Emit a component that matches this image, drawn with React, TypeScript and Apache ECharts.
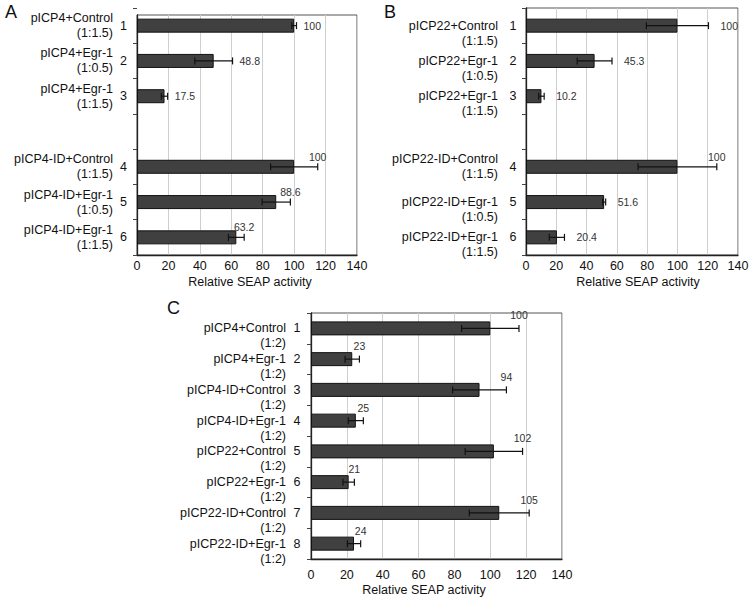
import React, { useEffect, useRef } from "react";
import * as echarts from "echarts";

// Panel A
const namesA = [
  "pICP4+Control\n(1:1.5)",
  "pICP4+Egr-1\n(1:0.5)",
  "pICP4+Egr-1\n(1:1.5)",
  "",
  "pICP4-ID+Control\n(1:1.5)",
  "pICP4-ID+Egr-1\n(1:0.5)",
  "pICP4-ID+Egr-1\n(1:1.5)",
];
const numsA = ["1", "2", "3", "", "4", "5", "6"];
const valsA: (number | null)[] = [100, 48.8, 17.5, null, 100, 88.6, 63.2];
const errA: (number | null)[] = [1.5, 12, 2, null, 15, 9, 5];
const modesA = ["right", "right", "right", "", "top", "top", "top"];

// Panel B
const namesB = [
  "pICP22+Control\n(1:1.5)",
  "pICP22+Egr-1\n(1:0.5)",
  "pICP22+Egr-1\n(1:1.5)",
  "",
  "pICP22-ID+Control\n(1:1.5)",
  "pICP22-ID+Egr-1\n(1:0.5)",
  "pICP22-ID+Egr-1\n(1:1.5)",
];
const numsB = ["1", "2", "3", "", "4", "5", "6"];
const valsB: (number | null)[] = [100, 45.3, 10.2, null, 100, 51.6, 20.4];
const errB: (number | null)[] = [20.5, 11.5, 1.8, null, 26, 1, 5];
const modesB = ["right", "right", "right", "", "top", "right", "right"];

// Panel C
const namesC = [
  "pICP4+Control\n(1:2)",
  "pICP4+Egr-1\n(1:2)",
  "pICP4-ID+Control\n(1:2)",
  "pICP4-ID+Egr-1\n(1:2)",
  "pICP22+Control\n(1:2)",
  "pICP22+Egr-1\n(1:2)",
  "pICP22-ID+Control\n(1:2)",
  "pICP22-ID+Egr-1\n(1:2)",
];
const numsC = ["1", "2", "3", "4", "5", "6", "7", "8"];
const valsC: (number | null)[] = [100, 23, 94, 25, 102, 21, 105, 24];
const errC: (number | null)[] = [16, 4, 15, 4.2, 16, 3.2, 16.7, 3.7];
const modesC = ["top", "top", "top", "top", "top", "top", "top", "top"];

const xMin = 0;
const xMax = 140;
const xStep = 20;
const axisTitle = "Relative SEAP activity";

const FONT = '"Liberation Sans", Arial, Helvetica, sans-serif';

function errData(vals: (number | null)[], errs: (number | null)[]) {
  const out: number[][] = [];
  vals.forEach((v, i) => {
    if (v != null && errs[i] != null) out.push([v, i, errs[i] as number]);
  });
  return out;
}

function makeRender(modes: string[], gap: number, topOff: number) {
  return (params: any, api: any) => {
    const v = api.value(0);
    const i = api.value(1);
    const e = api.value(2);
    const c = api.coord([v, i]);
    const lo = api.coord([v - e, i]);
    const hi = api.coord([v + e, i]);
    const y = c[1];
    const cap = 3.5;
    const ls = { stroke: "#111", lineWidth: 1.2 };
    const text = String(v);
    const mode = modes[i];
    const label =
      mode === "top"
        ? {
            type: "text",
            style: {
              text,
              x: hi[0],
              y: y - topOff,
              align: "center",
              verticalAlign: "middle",
              fill: "#333",
              font: `10.5px ${FONT}`,
            },
          }
        : {
            type: "text",
            style: {
              text,
              x: hi[0] + gap,
              y,
              align: "left",
              verticalAlign: "middle",
              fill: "#333",
              font: `10.5px ${FONT}`,
            },
          };
    return {
      type: "group",
      children: [
        { type: "line", shape: { x1: lo[0], y1: y, x2: hi[0], y2: y }, style: ls },
        { type: "line", shape: { x1: lo[0], y1: y - cap, x2: lo[0], y2: y + cap }, style: ls },
        { type: "line", shape: { x1: hi[0], y1: y - cap, x2: hi[0], y2: y + cap }, style: ls },
        label,
      ],
    };
  };
}

const barStyle = { color: "#404040", borderColor: "#111", borderWidth: 1 };

function valueXAxis(gridIndex: number, margin: number, show: boolean) {
  return {
    type: "value",
    gridIndex,
    min: xMin,
    max: xMax,
    interval: xStep,
    show,
    axisLine: { show: true, lineStyle: { color: "#222", width: 1.3 } },
    axisTick: { show: false },
    axisLabel: { fontSize: 12.5, color: "#111", margin, fontFamily: FONT },
    splitLine: { show: true, lineStyle: { color: "#cfcfcf", width: 1 } },
  };
}

// lineOneRows: rows whose first text line sits level with the bar centre
function nameYAxis(gridIndex: number, data: string[], margin: number, lineOneRows: number[], showLine: boolean) {
  return {
    type: "category",
    gridIndex,
    data,
    inverse: true,
    position: "left",
    axisLine: { show: showLine, lineStyle: { color: "#222", width: 1.3 } },
    axisTick: { show: true, interval: 0, length: 4, lineStyle: { color: "#444" } },
    axisLabel: {
      interval: 0,
      fontSize: 12.5,
      color: "#111",
      margin,
      lineHeight: 15,
      align: "right",
      fontFamily: FONT,
      formatter: (v: string, idx: number) => (v && lineOneRows.indexOf(idx) >= 0 ? " \n" + v : v),
    },
    splitLine: { show: false },
  };
}

function numYAxis(gridIndex: number, data: string[], margin: number) {
  return {
    type: "category",
    gridIndex,
    data,
    inverse: true,
    position: "left",
    offset: 0,
    axisLine: { show: false },
    axisTick: { show: false },
    axisLabel: { interval: 0, fontSize: 12.5, color: "#111", margin, fontFamily: FONT },
    splitLine: { show: false },
  };
}

export default function App() {
  const ref = useRef<HTMLDivElement>(null);
  useEffect(() => {
    if (!ref.current) return;
    const chart = echarts.init(ref.current, undefined, { renderer: "svg" });
    const frame = { show: true, borderColor: "#555", borderWidth: 1, backgroundColor: "transparent" };
    const option: any = {
      animation: false,
      textStyle: { fontFamily: FONT },
      grid: [
        { left: 137, top: 8, width: 220, height: 247 },
        { left: 137, top: 15, width: 220, height: 240, ...frame },
        { left: 526, top: 8, width: 212, height: 247, ...frame },
        { left: 311, top: 313, width: 251, height: 246, ...frame },
      ],
      xAxis: [
        valueXAxis(0, 4, false),
        valueXAxis(1, 4, true),
        valueXAxis(2, 4, true),
        valueXAxis(3, 9, true),
      ],
      yAxis: [
        nameYAxis(0, namesA, 24, [], false),
        numYAxis(0, numsA, 10),
        {
          type: "value",
          gridIndex: 1,
          min: 0,
          max: 1,
          axisLine: { show: true, lineStyle: { color: "#222", width: 1.3 } },
          axisTick: { show: false },
          axisLabel: { show: false },
          splitLine: { show: false },
        },
        nameYAxis(2, namesB, 28, [0, 1, 2, 5, 6], true),
        numYAxis(2, numsB, 9.5),
        nameYAxis(3, namesC, 25, [0, 1, 2, 3, 4, 5, 6, 7], true),
        numYAxis(3, numsC, 10.5),
      ],
      series: [
        {
          type: "bar",
          xAxisIndex: 0,
          yAxisIndex: 0,
          barWidth: 14,
          itemStyle: barStyle,
          data: valsA.map((v) => (v == null ? "-" : v)),
        },
        {
          type: "custom",
          xAxisIndex: 0,
          yAxisIndex: 0,
          z: 5,
          encode: { x: 0, y: 1 },
          renderItem: makeRender(modesA, 7, 10),
          data: errData(valsA, errA),
        },
        {
          type: "bar",
          xAxisIndex: 2,
          yAxisIndex: 3,
          barWidth: 14,
          itemStyle: barStyle,
          data: valsB.map((v) => (v == null ? "-" : v)),
        },
        {
          type: "custom",
          xAxisIndex: 2,
          yAxisIndex: 3,
          z: 5,
          encode: { x: 0, y: 1 },
          renderItem: makeRender(modesB, 12, 10),
          data: errData(valsB, errB),
        },
        {
          type: "bar",
          xAxisIndex: 3,
          yAxisIndex: 5,
          barWidth: 14,
          itemStyle: barStyle,
          data: valsC.map((v) => (v == null ? "-" : v)),
        },
        {
          type: "custom",
          xAxisIndex: 3,
          yAxisIndex: 5,
          z: 5,
          encode: { x: 0, y: 1 },
          renderItem: makeRender(modesC, 7, 13),
          data: errData(valsC, errC),
        },
      ],
      graphic: [
        { type: "text", left: 5, top: 3, style: { text: "A", font: `18px ${FONT}`, fill: "#111" } },
        { type: "text", left: 384, top: 3, style: { text: "B", font: `18px ${FONT}`, fill: "#111" } },
        { type: "text", left: 167, top: 299, style: { text: "C", font: `18px ${FONT}`, fill: "#111" } },
        {
          type: "text",
          x: 250,
          y: 282,
          style: { text: axisTitle, font: `12.5px ${FONT}`, fill: "#111", align: "center", verticalAlign: "middle" },
        },
        {
          type: "text",
          x: 638,
          y: 282,
          style: { text: axisTitle, font: `12.5px ${FONT}`, fill: "#111", align: "center", verticalAlign: "middle" },
        },
        {
          type: "text",
          x: 424,
          y: 590,
          style: { text: axisTitle, font: `12.5px ${FONT}`, fill: "#111", align: "center", verticalAlign: "middle" },
        },
      ],
    };
    chart.setOption(option);
    return () => chart.dispose();
  }, []);
  return (
    <div
      ref={ref}
      style={{ position: "absolute", left: 0, top: 0, width: 755, height: 601, background: "#fff" }}
    />
  );
}
